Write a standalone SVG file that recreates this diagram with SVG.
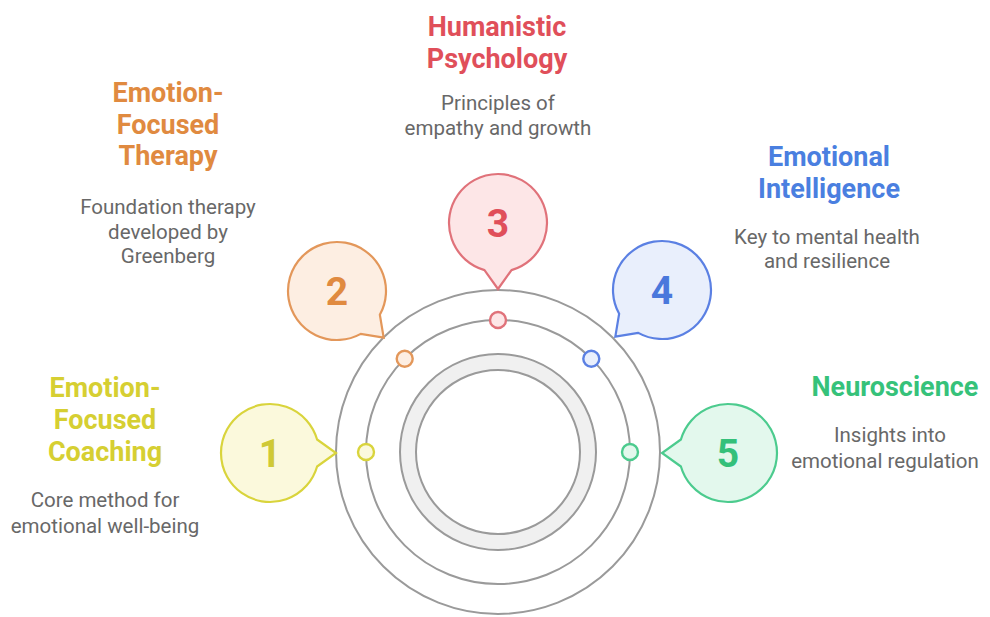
<svg xmlns="http://www.w3.org/2000/svg" width="990" height="617" viewBox="0 0 990 617">
  <style>
    .ring { fill: none; stroke: #9a9a9a; stroke-width: 2; }
    .title { font-family: Roboto, 'Liberation Sans', sans-serif; font-weight: 700; font-size: 27px; text-anchor: middle; }
    .desc { font-family: Roboto, 'Liberation Sans', sans-serif; font-size: 20.5px; fill: #686868; text-anchor: middle; }
    .num { font-family: Roboto, 'Liberation Sans', sans-serif; font-weight: 700; font-size: 39px; text-anchor: middle; }
    .bubble { stroke-width: 2.2; }
    .dot { stroke-width: 2.4; }
  </style>
  <defs>
    <!-- speech bubble: circle r=49 with a tail pointing along +x to (66,0) -->
    <path id="bubble" d="M 47.1 -13.5 L 66 0 L 47.1 13.5 A 49 49 0 1 1 47.1 -13.5 Z"/>
  </defs>
  <rect width="990" height="617" fill="#ffffff"/>

  <!-- concentric rings -->
  <g id="rings">
    <circle cx="498" cy="452" r="90" fill="none" stroke="#f0f0f0" stroke-width="16"/>
    <circle class="ring" cx="498" cy="452" r="98"/>
    <circle class="ring" cx="498" cy="452" r="82"/>
    <circle class="ring" cx="498" cy="452" r="132"/>
    <circle class="ring" cx="498" cy="452" r="162"/>
  </g>

  <!-- markers on the middle ring -->
  <g id="connectors">
    <circle class="dot" cx="366" cy="452" r="8" fill="#fbf9dc" stroke="#d9d43c"/>
    <circle class="dot" cx="404.7" cy="358.7" r="8" fill="#fdeee2" stroke="#e3975a"/>
    <circle class="dot" cx="498" cy="320" r="8" fill="#fde6e7" stroke="#e0727a"/>
    <circle class="dot" cx="591.3" cy="358.7" r="8" fill="#e9effc" stroke="#5b80e3"/>
    <circle class="dot" cx="630" cy="452" r="8" fill="#e3f8ed" stroke="#4ccb8e"/>
  </g>

  <!-- 1: Emotion-Focused Coaching -->
  <g id="node1">
    <use href="#bubble" class="bubble" transform="translate(270,453)" fill="#fbf9dc" stroke="#d9d43c"/>
    <text class="num" x="270" y="467" fill="#cfc936">1</text>
    <text class="title" fill="#d6cf32"><tspan x="105" y="397">Emotion-</tspan><tspan x="105" y="429">Focused</tspan><tspan x="105" y="461">Coaching</tspan></text>
    <text class="desc"><tspan x="105" y="507">Core method for</tspan><tspan x="105" y="533">emotional well-being</tspan></text>
  </g>

  <!-- 2: Emotion-Focused Therapy -->
  <g id="node2">
    <use href="#bubble" class="bubble" transform="translate(337,291) rotate(45)" fill="#fdeee2" stroke="#e3975a"/>
    <text class="num" x="337" y="305" fill="#e08a40">2</text>
    <text class="title" fill="#e08a40"><tspan x="168" y="102">Emotion-</tspan><tspan x="168" y="134">Focused</tspan><tspan x="168" y="165">Therapy</tspan></text>
    <text class="desc"><tspan x="168" y="214">Foundation therapy</tspan><tspan x="168" y="239">developed by</tspan><tspan x="168" y="263">Greenberg</tspan></text>
  </g>

  <!-- 3: Humanistic Psychology -->
  <g id="node3">
    <use href="#bubble" class="bubble" transform="translate(498,223) rotate(90)" fill="#fde6e7" stroke="#e0727a"/>
    <text class="num" x="498" y="237" fill="#e04f5a">3</text>
    <text class="title" fill="#e04f5a"><tspan x="497" y="36">Humanistic</tspan><tspan x="497" y="68">Psychology</tspan></text>
    <text class="desc"><tspan x="498" y="110">Principles of</tspan><tspan x="498" y="135">empathy and growth</tspan></text>
  </g>

  <!-- 4: Emotional Intelligence -->
  <g id="node4">
    <use href="#bubble" class="bubble" transform="translate(662,290) rotate(135)" fill="#e9effc" stroke="#5b80e3"/>
    <text class="num" x="662" y="304" fill="#4a78dc">4</text>
    <text class="title" fill="#4a7fe0"><tspan x="829" y="166">Emotional</tspan><tspan x="829" y="198">Intelligence</tspan></text>
    <text class="desc"><tspan x="827" y="244">Key to mental health</tspan><tspan x="827" y="268">and resilience</tspan></text>
  </g>

  <!-- 5: Neuroscience -->
  <g id="node5">
    <use href="#bubble" class="bubble" transform="translate(728,453) rotate(180)" fill="#e3f8ed" stroke="#4ccb8e"/>
    <text class="num" x="728" y="467" fill="#34c07a">5</text>
    <text class="title" fill="#36c27a" x="895" y="396">Neuroscience</text>
    <text class="desc"><tspan x="890" y="442">Insights into</tspan><tspan x="885" y="468">emotional regulation</tspan></text>
  </g>
</svg>
